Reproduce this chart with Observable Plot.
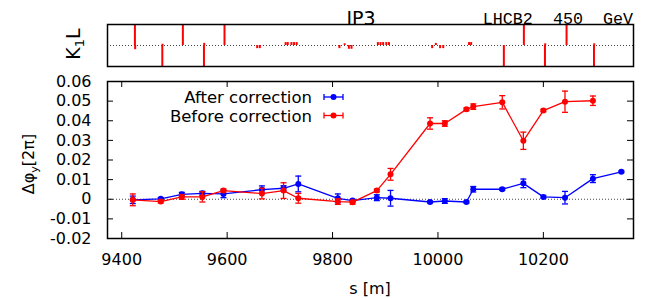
<!DOCTYPE html>
<html><head><meta charset="utf-8">
<script src="https://cdn.jsdelivr.net/npm/d3@7"></script>
<script src="https://cdn.jsdelivr.net/npm/@observablehq/plot@0.6"></script>
<style>
html,body{margin:0;padding:0;background:#fff;}
#chart{position:relative;width:646px;height:298px;overflow:hidden;background:#fff;}
#chart svg{display:block;overflow:visible;}
</style></head><body><div id="chart"></div>
<script>
// ---- data ----
const xTicks = [9400, 9600, 9800, 10000, 10200];
const yTicks = [-0.02, -0.01, 0, 0.01, 0.02, 0.03, 0.04, 0.05, 0.06];
const seriesNames = ["After correction", "Before correction"];

const sAfter = [9421, 9474, 9514, 9553, 9593, 9666, 9707, 9735, 9810, 9838, 9884, 9910, 9985, 10013, 10054, 10067, 10122, 10162, 10200, 10241, 10294, 10348];
const dAfter = [-0.0003, 0.0002, 0.0025, 0.003, 0.0027, 0.0049, 0.0056, 0.0078, 0.0005, -0.0007, 0.0008, 0.0005, -0.0014, -0.0009, -0.0014, 0.0051, 0.0051, 0.0081, 0.0012, 0.0008, 0.0105, 0.014];
const eAfter = [0.0019, 0.0006, 0.001, 0.001, 0.0019, 0.0019, 0.0013, 0.004, 0.0022, 0.0006, 0.0015, 0.004, 0.0005, 0.0012, 0.0005, 0.0014, 0.0006, 0.0022, 0.0007, 0.0032, 0.002, 0.0004];

const sBefore = [9421, 9474, 9514, 9553, 9593, 9666, 9707, 9735, 9810, 9838, 9884, 9910, 9985, 10013, 10054, 10067, 10122, 10162, 10200, 10241, 10294];
const dBefore = [-0.0003, -0.0012, 0.0012, 0.0012, 0.0044, 0.0029, 0.0044, 0.0005, -0.0012, -0.0015, 0.0044, 0.0127, 0.0386, 0.0386, 0.0458, 0.0472, 0.0494, 0.0298, 0.0452, 0.0497, 0.0502];
const eBefore = [0.003, 0.0007, 0.0012, 0.0026, 0.0008, 0.0027, 0.004, 0.0025, 0.0014, 0.001, 0.0007, 0.003, 0.0029, 0.0014, 0.0007, 0.0014, 0.0034, 0.0044, 0.0006, 0.0054, 0.0024];

// corrector kicks (K1L, normalised)
const kickS = [9425, 9425.5, 9477, 9477.5, 9516, 9556, 9556.5, 9595,
  9657, 9662, 9711, 9715, 9722, 9727, 9732, 9813, 9823, 9831, 9836,
  9886, 9891, 9896, 9902, 9907, 9989, 9996, 10004, 10010, 10059, 10063,
  10125, 10163, 10203, 10203.5, 10244, 10296, 10296.5];
const kickK = [1, -0.2, -1, 0.06, 1, -1, 0.1, 1,
  -0.15, -0.15, 0.14, 0.14, 0.14, 0.14, 0.14, -0.15, 0.08, -0.18, -0.18,
  0.14, 0.14, 0.14, 0.14, 0.14, -0.15, 0.1, -0.15, -0.15, 0.14, 0.14,
  -1, 1, -1, 0.08, 1, -1, 0.08];

// ---- layout / style ----
const W = 646, ML = 107, MR = 13;
const xDomain = [9373, 10371];
const BLUE = "#0000ff", RED = "#ff0000";
const FONT = "DejaVu Sans";
const after = sAfter.map((s, i) => ({s, v: dAfter[i], e: eAfter[i]}));
const before = sBefore.map((s, i) => ({s, v: dBefore[i], e: eBefore[i]}));
const kicks = kickS.map((s, i) => ({s, k: kickK[i]}));
const cap = {draw(ctx) { ctx.moveTo(-3, 0); ctx.lineTo(3, 0); }};
const style = {fontFamily: FONT, fontSize: "16px", background: "transparent", color: "black", overflow: "visible"};

function seriesMarks(data, color) {
  return [
    Plot.line(data, {x: "s", y: "v", stroke: color, strokeWidth: 1.3}),
    Plot.ruleX(data, {x: "s", y1: d => d.v - d.e, y2: d => d.v + d.e, stroke: color, strokeWidth: 1.3}),
    Plot.dot(data, {x: "s", y: d => d.v - d.e, symbol: cap, stroke: color, fill: "none", strokeWidth: 1.3}),
    Plot.dot(data, {x: "s", y: d => d.v + d.e, symbol: cap, stroke: color, fill: "none", strokeWidth: 1.3}),
    Plot.dot(data, {x: "s", y: "v", r: 3, fill: color, stroke: "none"})
  ];
}

const topH = 75, topMT = 24, topMB = 9;
const topPlot = Plot.plot({
  width: W, height: topH, marginTop: topMT, marginBottom: topMB, marginLeft: ML, marginRight: MR,
  style,
  x: {domain: xDomain, axis: null},
  y: {domain: [-1, 1], axis: null},
  marks: [
    Plot.ruleY([0], {stroke: "#444", strokeDasharray: "1,2"}),
    Plot.ruleX(kicks, {x: "s", y1: 0, y2: "k", stroke: RED, strokeWidth: 2}),
    Plot.frame({stroke: "black", strokeWidth: 1.5})
  ]
});

const mainH = 223, MT = 6, MB = 60;
const frameH = mainH - MT - MB, frameW = W - ML - MR, TL = 6;
const mainPlot = Plot.plot({
  width: W, height: mainH, marginTop: MT, marginBottom: MB, marginLeft: ML, marginRight: MR,
  style,
  x: {domain: xDomain},
  y: {domain: [-0.02, 0.06]},
  marks: [
    Plot.ruleY([0], {stroke: "#444", strokeDasharray: "1,2"}),
    Plot.tickX(xTicks, {x: d => d, insetTop: frameH - TL, stroke: "black"}),
    Plot.tickX(xTicks, {x: d => d, insetBottom: frameH - TL, stroke: "black"}),
    Plot.tickY(yTicks, {y: d => d, insetRight: frameW - TL, stroke: "black"}),
    Plot.tickY(yTicks, {y: d => d, insetLeft: frameW - TL, stroke: "black"}),
    ...seriesMarks(after, BLUE),
    ...seriesMarks(before, RED),
    Plot.axisX(xTicks, {tickSize: 0, tickPadding: 15, tickFormat: d => String(d), label: null, fontSize: 16}),
    Plot.axisY(yTicks, {tickSize: 0, tickPadding: 16, tickFormat: d => d === 0 ? "0" : d.toFixed(2), label: null, fontSize: 16}),
    Plot.frame({stroke: "black", strokeWidth: 1.5})
  ]
});

const chart = document.getElementById("chart");
chart.appendChild(topPlot);
chart.appendChild(mainPlot);

// ---- texts on top panel ----
const t = d3.select(topPlot);
t.insert("text", "[aria-label='frame']")
  .attr("x", 361).attr("y", 25).attr("text-anchor", "middle")
  .attr("font-size", 19).attr("font-family", FONT).attr("fill", "black").text("IP3");
t.append("text")
  .attr("x", 633).attr("y", 24).attr("text-anchor", "end")
  .attr("font-size", 16.7).attr("font-family", "Liberation Mono").attr("fill", "black")
  .text("LHCB2\u00a0\u00a0450\u00a0\u00a0GeV");
const k1 = t.append("text")
  .attr("transform", "translate(80,44) rotate(-90)").attr("text-anchor", "middle")
  .attr("font-size", 19).attr("font-family", FONT).attr("fill", "black");
k1.append("tspan").text("K");
k1.append("tspan").attr("font-size", 13).attr("dy", 4).text("1");
k1.append("tspan").attr("dy", -4).text("L");

// ---- texts on main panel ----
const m = d3.select(mainPlot);
const yl = m.append("text")
  .attr("transform", `translate(34,${164 - topH}) rotate(-90)`).attr("text-anchor", "middle")
  .attr("font-size", 16).attr("font-family", FONT).attr("fill", "black");
yl.append("tspan").text("Δφ");
yl.append("tspan").attr("font-size", 11).attr("dy", 4).text("y");
yl.append("tspan").attr("dy", -4).text("[2π]");
m.append("text")
  .attr("x", ML + frameW / 2).attr("y", 294 - topH).attr("text-anchor", "middle")
  .attr("font-size", 16).attr("font-family", FONT).attr("fill", "black").text("s [m]");

// legend
const legendColors = [BLUE, RED];
const legendY = [97 - topH, 115.5 - topH];
seriesNames.forEach((name, i) => {
  const g = m.append("g").attr("fill", "none").attr("stroke", legendColors[i]).attr("stroke-width", 1.3);
  const y = legendY[i];
  g.append("line").attr("x1", 324).attr("x2", 343).attr("y1", y).attr("y2", y);
  g.append("line").attr("x1", 324).attr("x2", 324).attr("y1", y - 3).attr("y2", y + 3);
  g.append("line").attr("x1", 343).attr("x2", 343).attr("y1", y - 3).attr("y2", y + 3);
  g.append("circle").attr("cx", 333.5).attr("cy", y).attr("r", 3).attr("fill", legendColors[i]).attr("stroke", "none");
  m.append("text").attr("x", 312).attr("y", y + 6).attr("text-anchor", "end")
    .attr("font-size", 16.5).attr("font-family", FONT).attr("fill", "black").text(name);
});
</script>
</body></html>
